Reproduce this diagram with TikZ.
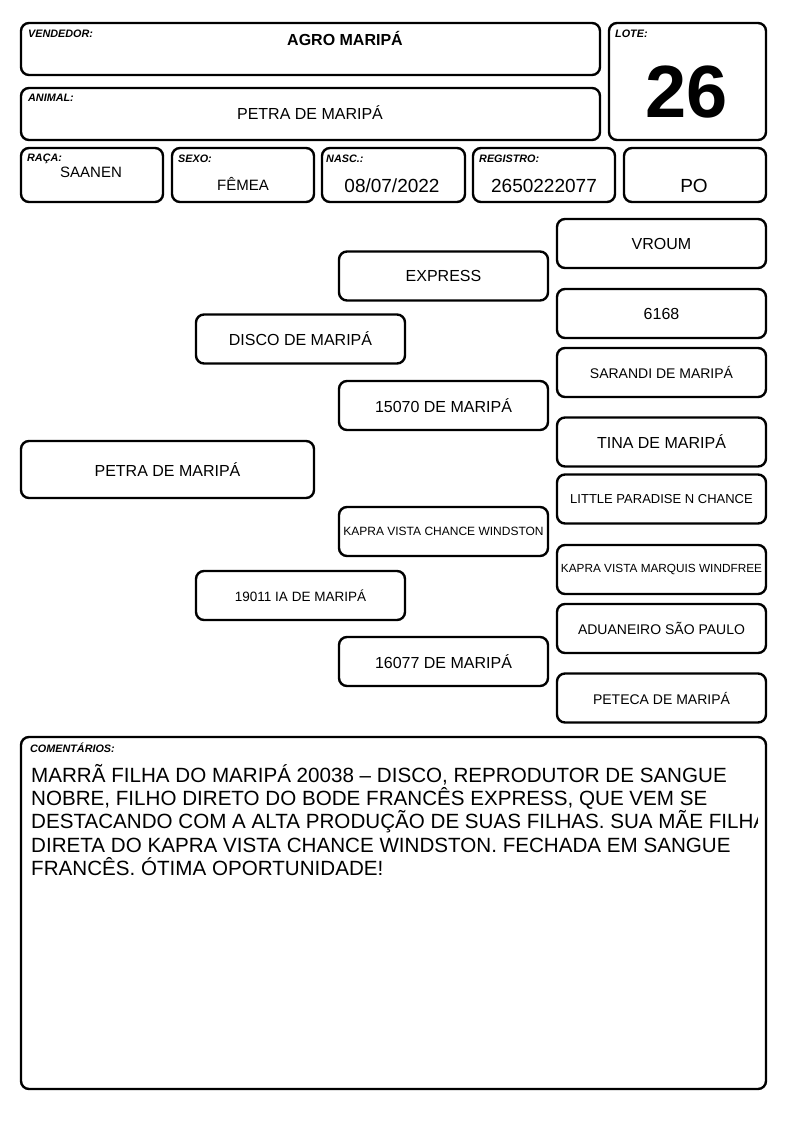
\documentclass[tikz,border=0pt]{standalone}
\usepackage{fontspec}
\setmainfont{Liberation Sans}
\usetikzlibrary{positioning}
\tikzset{
    x=1pt, y=-1pt, % page measured like the sheet, y running down
    card/.style={draw, line width=2.4pt, rounded corners=8pt, inner sep=0pt}, % every framed box
    tag/.style={anchor=north west, inner sep=0pt, font=\fontsize{10.8}{12}\selectfont\bfseries\itshape}, % small field titles
    field/.style={inner sep=0pt, font=\fontsize{16}{18}\selectfont}, % field values
    anc/.style={card, minimum width=209pt, minimum height=49pt, font=\fontsize{16}{18}\selectfont}, % pedigree boxes
}
\begin{document}
\begin{tikzpicture}
\useasboundingbox[fill=white] (0,0) rectangle (794,1123);
% header
\node[card, minimum width=579pt, minimum height=52pt] (vend) at (310.5,49) {};
\node[card, minimum width=579pt, minimum height=52pt] (animal) at (310.5,114) {};
\node[card, minimum width=157pt, minimum height=117pt] (lote) at (687.5,81.5) {};
\node[card, minimum width=142pt, minimum height=54pt] (raca) at (92,175) {};
\node[card, minimum width=142pt, minimum height=54pt] (sexo) at (243,175) {};
\node[card, minimum width=143pt, minimum height=54pt] (nasc) at (393.5,175) {};
\node[card, minimum width=142pt, minimum height=54pt] (reg) at (544,175) {};
\node[card, minimum width=142pt, minimum height=54pt] (po) at (695,175) {};
\node[tag] (tvend) at (28,30) {VENDEDOR:};
\node[tag] (tanimal) at (28,94) {ANIMAL:};
\node[tag] (tlote) at (615,30) {LOTE:};
\node[tag] (traca) at (27,154) {RAÇA:};
\node[tag] (tsexo) at (178,155) {SEXO:};
\node[tag] (tnasc) at (326,155) {NASC.:};
\node[tag] (treg) at (479,155) {REGISTRO:};
\node[field, font=\fontsize{16}{18}\selectfont\bfseries] (vvend) at (345,38) {AGRO MARIPÁ};
\node[field] (vanimal) at (310,113) {PETRA DE MARIPÁ};
\node[inner sep=0pt, font=\fontsize{74}{80}\selectfont\bfseries] (vlote) at (687,92) {26};
\node[field, font=\fontsize{15}{18}\selectfont] (vraca) at (91,172) {SAANEN};
\node[field, font=\fontsize{15}{18}\selectfont] (vsexo) at (243,184) {FÊMEA};
\node[field, font=\fontsize{19}{22}\selectfont] (vnasc) at (392,186) {08/07/2022};
\node[field, font=\fontsize{19}{22}\selectfont] (vreg) at (544,186) {2650222077};
\node[field, font=\fontsize{19}{22}\selectfont] (vpo) at (694,186) {PO};
% pedigree
\node[anc, minimum width=293pt, minimum height=57pt] (petra) at (167.5,469.5) {PETRA DE MARIPÁ};
\node[anc] (disco) at (300.5,339) {DISCO DE MARIPÁ};
\node[anc, font=\fontsize{13.5}{16}\selectfont] (ia) at (300.5,595.5) {19011 IA DE MARIPÁ};
\node[anc] (express) at (443.5,276) {EXPRESS};
\node[anc] (m15070) at (443.5,405.5) {15070 DE MARIPÁ};
\node[anc, font=\fontsize{12}{14}\selectfont] (kapra) at (443.5,531.5) {KAPRA VISTA CHANCE WINDSTON};
\node[anc] (m16077) at (443.5,661.5) {16077 DE MARIPÁ};
\node[anc] (vroum) at (661.5,243.5) {VROUM};
\node[anc] (n6168) at (661.5,313.5) {6168};
\node[anc, font=\fontsize{14}{16}\selectfont] (sarandi) at (661.5,372.5) {SARANDI DE MARIPÁ};
\node[anc] (tina) at (661.5,442) {TINA DE MARIPÁ};
\node[anc, font=\fontsize{13}{15}\selectfont] (little) at (661.5,499) {LITTLE PARADISE N CHANCE};
\node[anc, font=\fontsize{11.8}{15}\selectfont] (marquis) at (661.5,569.5) {KAPRA VISTA MARQUIS WINDFREE};
\node[anc, font=\fontsize{14}{16}\selectfont] (aduaneiro) at (661.5,628.5) {ADUANEIRO SÃO PAULO};
\node[anc, font=\fontsize{14}{16}\selectfont] (peteca) at (661.5,698) {PETECA DE MARIPÁ};
% comments
\node[card, minimum width=745pt, minimum height=352pt] (coment) at (393.5,913) {};
\node[tag] (tcoment) at (30,743) {COMENTÁRIOS:};
\begin{scope}
\clip (21,737) rectangle (757,1089);
\node[anchor=north west, inner sep=0pt, align=left, font=\fontsize{20.6}{23.3}\selectfont] (texto) at (31,764)
    {MARRÃ FILHA DO MARIPÁ 20038 – DISCO, REPRODUTOR DE SANGUE\\
     NOBRE, FILHO DIRETO DO BODE FRANCÊS EXPRESS, QUE VEM SE\\
     DESTACANDO COM A ALTA PRODUÇÃO DE SUAS FILHAS. SUA MÃE FILHA\\
     DIRETA DO KAPRA VISTA CHANCE WINDSTON. FECHADA EM SANGUE\\
     FRANCÊS. ÓTIMA OPORTUNIDADE!};
\end{scope}
\end{tikzpicture}
\end{document}
